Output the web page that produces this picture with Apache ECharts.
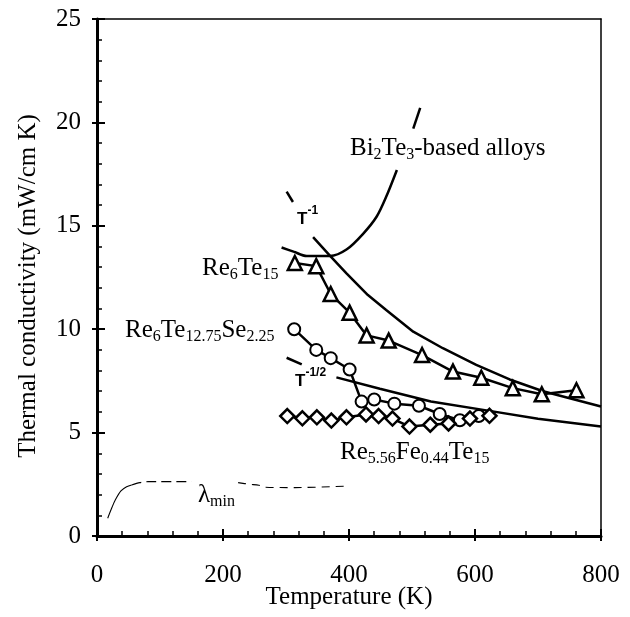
<!DOCTYPE html>
<html><head><meta charset="utf-8">
<script src="https://cdn.jsdelivr.net/npm/echarts@6/dist/echarts.min.js"></script>
<style>html,body{margin:0;padding:0;background:#fff}#c{width:630px;height:617px}</style>
</head><body><div id="c"></div>
<script>
// ---- data (Temperature K, thermal conductivity mW/cm K) ----
const xTicks = [0, 200, 400, 600, 800];
const yTicks = [0, 5, 10, 15, 20, 25];

const re6te15_T = [314, 348, 371, 401, 428, 463, 516, 565, 610, 660, 706, 761];
const re6te15_k = [13.2, 13.05, 11.7, 10.8, 9.7, 9.45, 8.75, 7.95, 7.65, 7.15, 6.85, 7.05];

const re6se_T = [313, 348, 371, 401, 420, 440, 472, 511, 544, 576, 606];
const re6se_k = [10.0, 9.0, 8.6, 8.05, 6.5, 6.6, 6.4, 6.3, 5.9, 5.6, 5.8];

const refe_T = [302, 326, 349, 372, 396, 427, 447, 469, 496, 529, 558, 592, 623];
const refe_k = [5.8, 5.69, 5.74, 5.58, 5.74, 5.88, 5.8, 5.68, 5.29, 5.38, 5.44, 5.68, 5.81];

const tInv1_T = [301, 311];
const tInv1_k = [16.65, 16.15];
const tInv2_T = [343, 370, 396, 430, 459, 502, 549, 602, 655, 708, 800];
const tInv2_k = [14.45, 13.55, 12.7, 11.65, 10.93, 9.88, 9.08, 8.27, 7.57, 7.0, 6.26];

const tHalf1_T = [301, 325];
const tHalf1_k = [8.62, 8.3];
const tHalf2_T = [380, 449, 530, 623, 700, 800];
const tHalf2_k = [7.67, 7.12, 6.5, 6.05, 5.67, 5.29];

const bi1_T = [293, 312, 333, 370, 396, 422, 444, 459, 476];
const bi1_k = [13.95, 13.75, 13.54, 13.54, 13.85, 14.6, 15.45, 16.4, 17.7];
const bi2_T = [502, 513];
const bi2_k = [19.7, 20.7];

const lamA_T = [17, 24, 29, 38, 47, 55];
const lamA_k = [0.86, 1.4, 1.74, 2.18, 2.38, 2.47];
const lamB_T = [55, 68, 81, 150];
const lamB_k = [2.47, 2.58, 2.63, 2.63];
const lamC_T = [224, 242, 257, 266, 314, 401];
const lamC_k = [2.58, 2.5, 2.45, 2.36, 2.34, 2.42];

// ---- chart ----
const FONT = '"Liberation Serif", "Times New Roman", serif';
const SANS = '"Liberation Sans", Arial, sans-serif';
const zip = (a, b) => a.map((v, i) => [v, b[i]]);
const chart = echarts.init(document.getElementById('c'), null, {renderer: 'canvas'});

function curve(T, k, extra) {
  return Object.assign({
    type: 'line', data: zip(T, k), symbol: 'none', silent: true,
    lineStyle: {color: '#000', width: 2.5}, z: 2
  }, extra || {});
}
function marked(T, k, sym, size, bw) {
  return {
    type: 'line', data: zip(T, k), symbol: sym, symbolSize: size, showAllSymbol: true,
    silent: true, z: 3,
    lineStyle: {color: '#000', width: 2.5},
    itemStyle: {color: '#fff', borderColor: '#000', borderWidth: bw}
  };
}

const sub = {fontSize: 16, fontFamily: FONT, lineHeight: 16, verticalAlign: 'bottom'};
const nor = {fontSize: 25, fontFamily: FONT, lineHeight: 30};
const richSub = {n: nor, s: sub};
const richSup = {
  t: {fontSize: 17, fontFamily: SANS, fontWeight: 'bold', lineHeight: 29},
  p: {fontSize: 12, fontFamily: SANS, fontWeight: 'bold', lineHeight: 12, verticalAlign: 'top'}
};
function label(x, y, text, rich) {
  return {type: 'text', x: x, y: y, silent: true, z: 10,
    style: {text: text, rich: rich, fill: '#000', align: 'left', verticalAlign: 'middle'}};
}

const xBase = {type: 'value', min: xTicks[0], max: xTicks[xTicks.length - 1], interval: xTicks[1] - xTicks[0],
  splitLine: {show: false}};
const yBase = {type: 'value', min: yTicks[0], max: yTicks[yTicks.length - 1], interval: yTicks[1] - yTicks[0],
  splitLine: {show: false}};

chart.setOption({
  animation: false,
  backgroundColor: '#fff',
  grid: {left: 97, right: 29, top: 19, bottom: 81, containLabel: false, outerBoundsMode: 'none'},
  xAxis: [
    Object.assign({}, xBase, {
      position: 'bottom',
      axisLine: {show: true, onZero: false, lineStyle: {color: '#000', width: 3}},
      axisTick: {show: true, inside: true, length: 7, lineStyle: {color: '#000', width: 2}},
      minorTick: {show: true, splitNumber: 5, length: 5, lineStyle: {color: '#000', width: 1.5}},
      axisLabel: {color: '#000', fontSize: 25, fontFamily: FONT, margin: 27},
      name: 'Temperature (K)', nameLocation: 'middle', nameGap: 49, nameMoveOverlap: false,
      nameTextStyle: {color: '#000', fontSize: 25, fontFamily: FONT}
    }),
    Object.assign({}, xBase, {
      position: 'bottom', axisLine: {show: false, onZero: false},
      axisTick: {show: true, inside: false, length: 5, lineStyle: {color: '#000', width: 2}},
      axisLabel: {show: false}
    }),
    Object.assign({}, xBase, {
      position: 'top', axisLine: {show: true, onZero: false, lineStyle: {color: '#000', width: 1.5}},
      axisTick: {show: false}, axisLabel: {show: false}
    })
  ],
  yAxis: [
    Object.assign({}, yBase, {
      position: 'left',
      axisLine: {show: true, onZero: false, lineStyle: {color: '#000', width: 3}},
      axisTick: {show: true, inside: true, length: 8, lineStyle: {color: '#000', width: 2}},
      minorTick: {show: true, splitNumber: 5, length: 5, lineStyle: {color: '#000', width: 1.5}},
      axisLabel: {color: '#000', fontSize: 25, fontFamily: FONT, margin: 16},
      name: 'Thermal conductivity (mW/cm K)', nameLocation: 'middle', nameGap: 56, nameMoveOverlap: false,
      nameTextStyle: {color: '#000', fontSize: 25, fontFamily: FONT, padding: [0, 17, 0, 0]}
    }),
    Object.assign({}, yBase, {
      position: 'left', axisLine: {show: false, onZero: false},
      axisTick: {show: true, inside: false, length: 5, lineStyle: {color: '#000', width: 2}},
      axisLabel: {show: false}
    }),
    Object.assign({}, yBase, {
      position: 'right', axisLine: {show: true, onZero: false, lineStyle: {color: '#000', width: 1.5}},
      axisTick: {show: false}, axisLabel: {show: false}
    })
  ],
  series: [
    curve(tInv1_T, tInv1_k),
    curve(tInv2_T, tInv2_k),
    curve(tHalf1_T, tHalf1_k),
    curve(tHalf2_T, tHalf2_k),
    curve(bi1_T, bi1_k, {smooth: 0.3}),
    curve(bi2_T, bi2_k),
    curve(lamA_T, lamA_k, {smooth: 0.3, lineStyle: {color: '#000', width: 1.1}}),
    curve(lamB_T, lamB_k, {smooth: 0.3, lineStyle: {color: '#000', width: 1.1, type: [10, 5]}}),
    curve(lamC_T, lamC_k, {smooth: 0.3, lineStyle: {color: '#000', width: 1.1, type: [8, 6]}}),
    marked(re6te15_T, re6te15_k, 'triangle', 14, 2.5),
    marked(re6se_T, re6se_k, 'circle', 12, 2),
    marked(refe_T, refe_k, 'diamond', 14, 2.5)
  ],
  graphic: [
    label(350, 148, '{n|Bi}{s|2}{n|Te}{s|3}{n|-based alloys}', richSub),
    label(202, 268, '{n|Re}{s|6}{n|Te}{s|15}', richSub),
    label(125, 330, '{n|Re}{s|6}{n|Te}{s|12.75}{n|Se}{s|2.25}', richSub),
    label(340, 452, '{n|Re}{s|5.56}{n|Fe}{s|0.44}{n|Te}{s|15}', richSub),
    label(297, 219, '{t|T}{p|-1}', richSup),
    label(295, 381, '{t|T}{p|-1/2}', richSup),
    label(198, 495, '{n|λ}{s|min}', richSub)
  ]
});
</script></body></html>
